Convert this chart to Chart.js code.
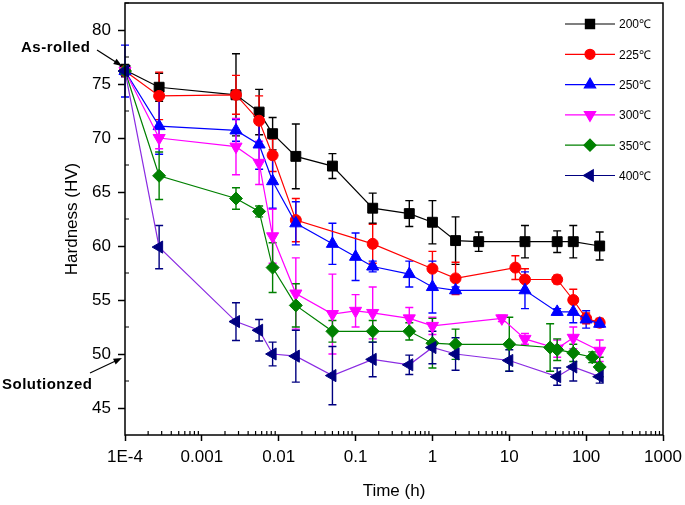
<!DOCTYPE html>
<html>
<head>
<meta charset="utf-8">
<script src="https://cdn.jsdelivr.net/npm/chart.js@4/dist/chart.umd.min.js"></script>
<style>
  body { margin: 0; background: #fff; }
</style>
</head>
<body>
<canvas id="hardnessChart" width="685" height="505"></canvas>
<script>
// time in hours, hardness in HV, err = half length of the error bar
const seriesLabels = ["200℃", "225℃", "250℃", "300℃", "350℃", "400℃"];

const t200 = [1e-4, 0.000278, 0.00278, 0.00556, 0.00833, 0.0167, 0.05, 0.167, 0.5, 1, 2, 4, 16, 42, 68, 150];
const hv200 = [76.3, 74.7, 74.0, 72.4, 70.4, 68.3, 67.4, 63.5, 63.0, 62.2, 60.5, 60.4, 60.4, 60.4, 60.4, 60.0];
const err200 = [0.5, 1.3, 3.8, 2.1, 1.5, 3.0, 1.15, 1.4, 1.2, 2.0, 2.2, 0.9, 1.5, 1.0, 1.5, 1.3];

const t225 = [1e-4, 0.000278, 0.00278, 0.00556, 0.00833, 0.0167, 0.167, 1, 2, 12, 16, 42, 68, 100, 150];
const hv225 = [76.2, 73.9, 74.0, 71.6, 68.4, 62.4, 60.2, 57.9, 57.0, 58.0, 56.9, 56.9, 55.0, 53.3, 52.9];
const err225 = [0.5, 2.2, 1.8, 2.3, 1.5, 2.0, 1.8, 1.6, 1.5, 1.1, 1.0, 0.4, 1.0, 0.5, 0.4];

const t250 = [1e-4, 0.000278, 0.00278, 0.00556, 0.00833, 0.0167, 0.05, 0.1, 0.167, 0.5, 1, 2, 16, 42, 68, 100, 150];
const hv250 = [76.2, 71.1, 70.7, 69.4, 66.0, 62.1, 60.2, 59.0, 58.1, 57.4, 56.2, 55.9, 55.9, 53.9, 53.9, 53.2, 52.8];
const err250 = [2.4, 2.6, 1.0, 2.3, 2.5, 2.0, 1.9, 2.2, 0.5, 1.2, 2.4, 0.3, 1.7, 0.3, 1.0, 0.8, 0.3];

const t300 = [1e-4, 0.000278, 0.00278, 0.00556, 0.00833, 0.0167, 0.05, 0.1, 0.167, 0.5, 1, 8, 16, 42, 68, 150];
const hv300 = [76.2, 70.0, 69.2, 67.7, 60.9, 55.6, 53.7, 54.0, 53.8, 53.3, 52.6, 53.3, 51.4, 50.5, 51.5, 50.3];
const err300 = [0.5, 1.0, 2.6, 2.0, 2.5, 3.3, 3.7, 1.5, 2.4, 1.0, 0.8, 0.3, 0.5, 0.8, 1.0, 1.0];

const t350 = [1e-4, 0.000278, 0.00278, 0.00556, 0.00833, 0.0167, 0.05, 0.167, 0.5, 1, 2, 10, 34, 42, 68, 120, 150];
const hv350 = [76.2, 66.5, 64.4, 63.2, 58.0, 54.5, 52.1, 52.1, 52.1, 51.0, 50.9, 50.9, 50.6, 50.4, 50.1, 49.7, 48.8];
const err350 = [0.5, 2.2, 1.0, 0.5, 2.3, 2.0, 1.0, 1.0, 0.8, 2.3, 1.4, 2.5, 2.2, 1.0, 0.8, 0.5, 0.9];

const t400 = [1e-4, 0.000278, 0.00278, 0.00556, 0.00833, 0.0167, 0.05, 0.167, 0.5, 1, 2, 10, 42, 68, 150];
const hv400 = [76.2, 59.9, 53.0, 52.2, 50.0, 49.8, 48.0, 49.5, 49.0, 50.6, 50.0, 49.4, 47.9, 48.8, 47.9];
const err400 = [0.5, 2.0, 1.75, 1.0, 1.1, 2.4, 2.7, 1.6, 0.9, 1.5, 1.5, 1.0, 0.8, 1.3, 0.6];

const xTicks = [1e-4, 1e-3, 1e-2, 0.1, 1, 10, 100, 1000];
const xTickLabels = ["1E-4", "0.001", "0.01", "0.1", "1", "10", "100", "1000"];
const yTicks = [45, 50, 55, 60, 65, 70, 75, 80];

const FONT = "'Liberation Sans', Arial, sans-serif";

const styles = [
  { color: "#000000", line: "#000000", point: "rect", rot: 0, r: 7 },
  { color: "#ff0000", line: "#ff0000", point: "circle", rot: 0, r: 5.5 },
  { color: "#0000ff", line: "#0000ff", point: "triangle", rot: 0, r: 7 },
  { color: "#ff00ff", line: "#ff00ff", point: "triangle", rot: 180, r: 7 },
  { color: "#008000", line: "#008000", point: "rectRot", rot: 0, r: 6.5 },
  { color: "#000080", line: "#8a2be2", point: "triangle", rot: 270, r: 7 },
];

const times = [t200, t225, t250, t300, t350, t400];
const values = [hv200, hv225, hv250, hv300, hv350, hv400];
const errors = [err200, err225, err250, err300, err350, err400];

const datasets = seriesLabels.map((label, i) => ({
  label: label,
  data: times[i].map((t, j) => ({ x: t, y: values[i][j] })),
  errors: errors[i],
  borderColor: styles[i].line,
  backgroundColor: styles[i].color,
  borderWidth: 1.2,
  pointStyle: styles[i].point,
  pointRotation: styles[i].rot,
  pointRadius: styles[i].r,
  pointBackgroundColor: styles[i].color,
  pointBorderColor: styles[i].color,
  pointBorderWidth: 1,
  errColor: styles[i].color,
  clip: false,
  order: seriesLabels.length - 1 - i,
}));

const errorBars = {
  id: "errorBars",
  beforeDatasetsDraw(chart) {
    const { ctx, scales: { x, y } } = chart;
    ctx.save();
    ctx.lineWidth = 1.4;
    chart.data.datasets.forEach((ds) => {
      ctx.strokeStyle = ds.errColor;
      ds.data.forEach((p, j) => {
        const e = ds.errors[j];
        if (!e) return;
        const px = x.getPixelForValue(p.x);
        const top = y.getPixelForValue(p.y + e);
        const bot = y.getPixelForValue(p.y - e);
        ctx.beginPath();
        ctx.moveTo(px, top); ctx.lineTo(px, bot);
        ctx.moveTo(px - 4, top); ctx.lineTo(px + 4, top);
        ctx.moveTo(px - 4, bot); ctx.lineTo(px + 4, bot);
        ctx.stroke();
      });
    });
    ctx.restore();
  },
};

function arrow(ctx, x1, y1, x2, y2) {
  const a = Math.atan2(y2 - y1, x2 - x1);
  ctx.beginPath();
  ctx.moveTo(x1, y1);
  ctx.lineTo(x2 - 6 * Math.cos(a), y2 - 6 * Math.sin(a));
  ctx.stroke();
  ctx.beginPath();
  ctx.moveTo(x2, y2);
  ctx.lineTo(x2 - 9 * Math.cos(a - 0.35), y2 - 9 * Math.sin(a - 0.35));
  ctx.lineTo(x2 - 9 * Math.cos(a + 0.35), y2 - 9 * Math.sin(a + 0.35));
  ctx.closePath();
  ctx.fill();
}

const frameAndExtras = {
  id: "frameAndExtras",
  afterDraw(chart) {
    const { ctx, chartArea: a, scales: { x, y } } = chart;
    ctx.save();
    ctx.strokeStyle = "#000";
    ctx.fillStyle = "#000";
    ctx.lineWidth = 1.5;
    ctx.strokeRect(a.left, a.top, a.right - a.left, a.bottom - a.top);

    // minor ticks, pointing inward
    ctx.lineWidth = 1.2;
    ctx.beginPath();
    for (let d = -4; d < 3; d++) {
      for (let m = 2; m <= 9; m++) {
        const px = x.getPixelForValue(m * Math.pow(10, d));
        ctx.moveTo(px, a.bottom);
        ctx.lineTo(px, a.bottom - 4);
      }
    }
    for (let i = 0; i < yTicks.length - 1; i++) {
      const py = y.getPixelForValue((yTicks[i] + yTicks[i + 1]) / 2);
      ctx.moveTo(a.left, py);
      ctx.lineTo(a.left + 4, py);
    }
    const py0 = y.getPixelForValue(yTicks[yTicks.length - 1] + 2.5);
    ctx.moveTo(a.left, py0);
    ctx.lineTo(a.left + 4, py0);
    ctx.stroke();

    // legend
    ctx.font = "12px " + FONT;
    ctx.textBaseline = "middle";
    chart.data.datasets.forEach((ds, i) => {
      const ly = 24 + i * 30.3;
      ctx.strokeStyle = ds.pointBorderColor;
      ctx.lineWidth = 1.2;
      ctx.beginPath();
      ctx.moveTo(565, ly); ctx.lineTo(615, ly);
      ctx.stroke();
      ctx.fillStyle = ds.pointBackgroundColor;
      Chart.helpers.drawPoint(ctx, {
        pointStyle: ds.pointStyle, rotation: ds.pointRotation,
        radius: ds.pointRadius - 0.5, borderWidth: 1,
      }, 590, ly);
      ctx.fillStyle = "#000";
      ctx.fillText(ds.label, 619, ly + 1);
    });

    // annotations
    ctx.fillStyle = "#000";
    ctx.strokeStyle = "#000";
    ctx.lineWidth = 1.2;
    ctx.font = "bold 15px " + FONT;
    ctx.letterSpacing = "0.5px";
    ctx.textBaseline = "middle";
    ctx.fillText("As-rolled", 21, 48);
    arrow(ctx, 97, 50, 122, 66);
    ctx.fillText("Solutionzed", 2, 385);
    arrow(ctx, 90, 373, 122, 358);
    ctx.restore();
  },
};

new Chart(document.getElementById("hardnessChart"), {
  type: "line",
  data: { datasets: datasets },
  options: {
    responsive: false,
    animation: false,
    layout: { autoPadding: false, padding: { top: 3, right: 22, left: 0, bottom: 0 } },
    plugins: {
      legend: { display: false },
      tooltip: { enabled: false },
    },
    scales: {
      x: {
        type: "logarithmic",
        min: 1e-4,
        max: 1000,
        afterBuildTicks: (scale) => {
          scale.ticks = xTicks.map((v) => ({ value: v }));
        },
        afterFit: (scale) => {
          scale.height = 70;
          scale.paddingLeft = 0;
          scale.paddingRight = 0;
        },
        ticks: {
          autoSkip: false,
          maxRotation: 0,
          color: "#000",
          padding: 6,
          font: { family: FONT, size: 17 },
          callback: (v, i) => xTickLabels[i],
        },
        grid: {
          drawOnChartArea: false,
          drawTicks: true,
          tickLength: 6,
          tickColor: "#000",
          tickWidth: 1.5,
        },
        border: { display: false },
        title: {
          display: true,
          text: "Time (h)",
          color: "#000",
          font: { family: FONT, size: 17 },
          padding: { top: 0, bottom: 3 },
        },
      },
      y: {
        type: "linear",
        min: 42.5,
        max: 82.5,
        afterBuildTicks: (scale) => {
          scale.ticks = yTicks.map((v) => ({ value: v }));
        },
        afterFit: (scale) => {
          scale.width = 125;
          scale.paddingTop = 0;
          scale.paddingBottom = 0;
        },
        ticks: {
          color: "#000",
          padding: 7,
          font: { family: FONT, size: 17 },
        },
        grid: {
          drawOnChartArea: false,
          drawTicks: true,
          tickLength: 7,
          tickColor: "#000",
          tickWidth: 1.5,
        },
        border: { display: false },
        title: {
          display: true,
          text: "Hardness (HV)",
          color: "#000",
          font: { family: FONT, size: 17 },
          padding: { top: 62, bottom: 0 },
        },
      },
    },
  },
  plugins: [errorBars, frameAndExtras],
});
</script>
</body>
</html>
